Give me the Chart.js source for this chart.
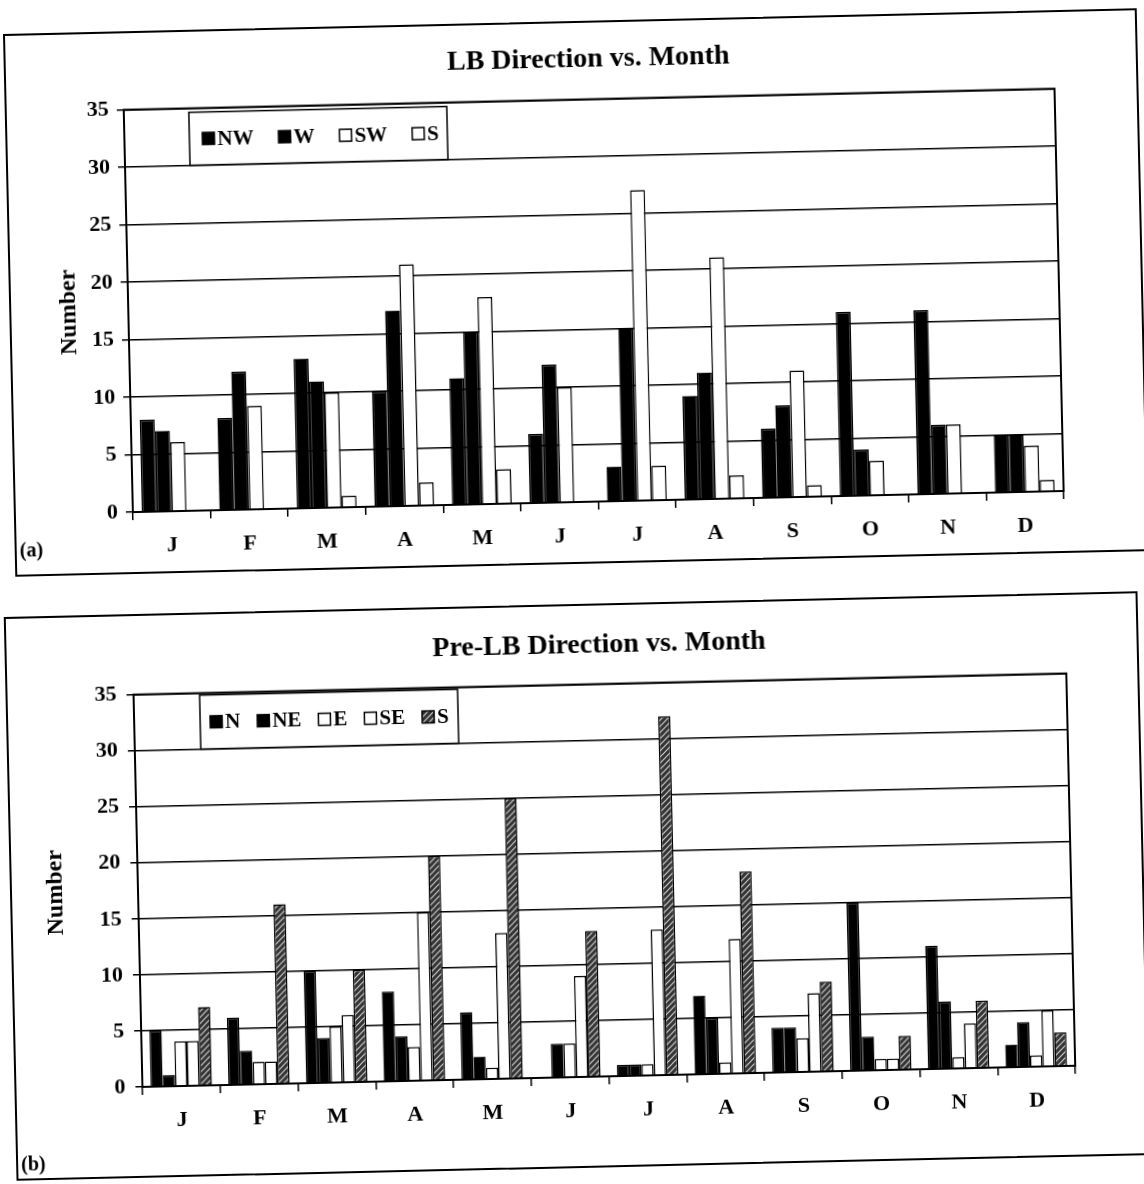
<!DOCTYPE html>
<html>
<head>
<meta charset="utf-8">
<script src="https://cdn.jsdelivr.net/npm/chart.js@4.4.1/dist/chart.umd.min.js"></script>
<style>
body { margin:0; background:#fff; width:1144px; height:1184px; overflow:hidden; position:relative; font-family:"Liberation Serif", serif; }
.box { position:absolute; border:2px solid #000; box-sizing:border-box; background:#fff; transform:rotate(-1.3deg); }
.box canvas { position:absolute; left:0; top:0; }
.tag { position:absolute; font-weight:bold; font-size:20px; color:#000; }
</style>
</head>
<body>
<div class="box" style="left:9px; top:21px; width:1134px; height:543px;">
  <canvas id="chartA" width="1130" height="539"></canvas>
  <div class="tag" style="left:3px; top:503px;">(a)</div>
</div>
<div class="box" style="left:10px; top:604px; width:1134px; height:564px;">
  <canvas id="chartB" width="1130" height="560"></canvas>
  <div class="tag" style="left:3px; top:534px;">(b)</div>
</div>
<script>
// month categories
var months = ["J", "F", "M", "A", "M", "J", "J", "A", "S", "O", "N", "D"];

// (a) LB direction counts
var lbNW = [8, 8, 13, 10, 11, 6, 3, 9, 6, 16, 16, 5];
var lbW  = [7, 12, 11, 17, 15, 12, 15, 11, 8, 4, 6, 5];
var lbSW = [6, 9, 10, 21, 18, 10, 27, 21, 11, 3, 6, 4];
var lbS  = [0, 0, 1, 2, 3, 0, 3, 2, 1, 0, 0, 1];

// (b) pre-LB direction counts
var preN  = [5, 6, 10, 8, 6, 0, 1, 7, 4, 15, 11, 2];
var preNE = [1, 3, 4, 4, 2, 3, 1, 5, 4, 3, 6, 4];
var preE  = [4, 2, 5, 3, 1, 3, 1, 1, 3, 1, 1, 1];
var preSE = [4, 2, 6, 15, 13, 9, 13, 12, 7, 1, 4, 5];
var preS  = [7, 16, 10, 20, 25, 13, 32, 18, 8, 3, 6, 3];

var yMax = 35;
var yStep = 5;

var serif = "Liberation Serif";
Chart.defaults.font.family = serif;
Chart.defaults.color = "#000";

function makeHatch()
{
    var c = document.createElement("canvas");
    c.width = 6;
    c.height = 6;
    var x = c.getContext("2d");
    x.fillStyle = "#333";
    x.fillRect(0, 0, 6, 6);
    x.strokeStyle = "#d0d0d0";
    x.lineWidth = 1.2;
    x.beginPath();
    x.moveTo(0, 6); x.lineTo(6, 0);
    x.moveTo(-1, 1); x.lineTo(1, -1);
    x.moveTo(5, 7); x.lineTo(7, 5);
    x.stroke();
    return x.createPattern(c, "repeat");
}

// frame round the plot plus the boxed legend inside it
var boxLegend = {
    id: "boxLegend",
    afterDraw: function (chart, args, o) {
        var ctx = chart.ctx;
        var a = chart.chartArea;
        ctx.save();
        ctx.strokeStyle = "#000";
        ctx.lineWidth = 2;
        ctx.strokeRect(a.left, a.top, a.right - a.left, a.bottom - a.top);

        var x0 = a.left + o.x, y0 = a.top + o.y;
        ctx.fillStyle = "#fff";
        ctx.fillRect(x0, y0, o.w, o.h);
        ctx.lineWidth = 1.5;
        ctx.strokeRect(x0, y0, o.w, o.h);
        ctx.font = "bold 21px '" + serif + "'";
        ctx.textBaseline = "middle";
        var x = x0 + o.pad;
        var cy = y0 + o.h / 2;
        chart.data.datasets.forEach(function (ds) {
            ctx.fillStyle = ds.backgroundColor;
            ctx.fillRect(x, cy - 6, 12, 12);
            ctx.strokeStyle = "#000";
            ctx.lineWidth = 1.5;
            ctx.strokeRect(x, cy - 6, 12, 12);
            ctx.fillStyle = "#000";
            ctx.fillText(ds.label, x + 15, cy + 1);
            x += 15 + ctx.measureText(ds.label).width + o.gap;
        });
        ctx.restore();
    }
};

function bar(label, data, fill)
{
    return {
        label: label,
        data: data,
        backgroundColor: fill,
        borderColor: "#000",
        borderWidth: 1.5
    };
}

function makeChart(id, title, sets, lay)
{
    return new Chart(document.getElementById(id), {
        type: "bar",
        data: { labels: months, datasets: sets },
        plugins: [boxLegend],
        options: {
            responsive: false,
            animation: false,
            layout: { padding: { left: 0, right: lay.padRight, top: 0, bottom: 0 } },
            datasets: { bar: { categoryPercentage: lay.catPct, barPercentage: 1 } },
            plugins: {
                legend: { display: false },
                tooltip: { enabled: false },
                title: {
                    display: true,
                    text: title,
                    fullSize: false,
                    color: "#000",
                    font: { family: serif, size: 28, weight: "bold", lineHeight: 1.2 },
                    padding: { top: lay.titleTop, bottom: lay.titleBottom }
                },
                boxLegend: lay.legend
            },
            scales: {
                x: {
                    grid: { drawOnChartArea: false, drawTicks: true, tickLength: 8, color: "#000", lineWidth: 1.5, offset: true },
                    border: { color: "#000", width: 2 },
                    ticks: { color: "#000", font: { family: serif, size: 22, weight: "bold" }, padding: 13, maxRotation: 0, autoSkip: false },
                    afterFit: function (s) { s.height = lay.xHeight; }
                },
                y: {
                    min: 0,
                    max: yMax,
                    ticks: { stepSize: yStep, color: "#000", font: { family: serif, size: 22, weight: "bold" }, padding: lay.yTickPad },
                    grid: { color: "#000", lineWidth: 1.5, tickLength: 7 },
                    border: { color: "#000", width: 2 },
                    title: {
                        display: true,
                        text: "Number",
                        color: "#000",
                        font: { family: serif, size: 24, weight: "bold", lineHeight: 1.2 },
                        padding: { top: lay.yTitlePad, bottom: 0 }
                    },
                    afterFit: function (s) { s.width = lay.yWidth; }
                }
            }
        }
    });
}

var hatch = makeHatch();

var chartA = makeChart("chartA", "LB Direction vs. Month", [
    bar("NW", lbNW, "#000"),
    bar("W", lbW, "#000"),
    bar("SW", lbSW, "#fff"),
    bar("S", lbS, "#fff")
], {
    padRight: 82, catPct: 0.77, titleTop: 20, titleBottom: 23, xHeight: 60,
    yWidth: 117, yTickPad: 8, yTitlePad: 43,
    legend: { x: 65, y: 4, w: 258, h: 53, pad: 13, gap: 25 }
});

var chartB = makeChart("chartB", "Pre-LB Direction vs. Month", [
    bar("N", preN, "#000"),
    bar("NE", preNE, "#000"),
    bar("E", preE, "#fff"),
    bar("SE", preSE, "#fff"),
    bar("S", preS, hatch)
], {
    padRight: 71, catPct: 0.79, titleTop: 23, titleBottom: 22, xHeight: 89,
    yWidth: 126, yTickPad: 10, yTitlePad: 29,
    legend: { x: 66, y: 2, w: 258, h: 54, pad: 10, gap: 17 }
});
</script>
</body>
</html>
